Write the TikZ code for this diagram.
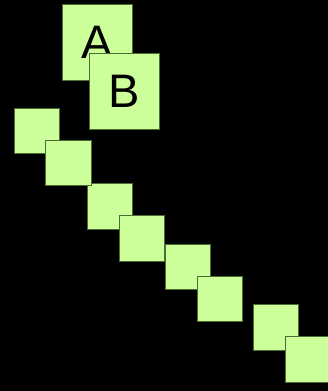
\documentclass[tikz,border=0pt]{standalone}
\usepackage{fontspec}
\setmainfont{Liberation Sans}
\definecolor{boxfill}{HTML}{CCFF99}
\definecolor{boxline}{HTML}{4F6B35}
\tikzset{
  box/.style={
    rectangle,
    fill=boxfill,
    draw=boxline,
    line width=0.8pt,
    minimum size=45.2pt,
    inner sep=0pt,
  },
  letterbox/.style={
    box,
    minimum width=70pt,
    minimum height=76pt,
    font=\fontsize{47}{50}\selectfont,
  }
}

\begin{document}
\begin{tikzpicture}[x=1pt, y=-1pt]
  \useasboundingbox (0, 0) rectangle (328, 391);
  \fill[black] (0, 0) rectangle (328, 391);

  \foreach \name/\px/\py in {
    s7/276.2/327.3,
    s8/308.0/359.3,
    s5/187.7/266.8,
    s6/219.7/298.8,
    s3/109.7/206.3,
    s4/141.5/238.3,
    s1/36.5/130.5,
    s2/68.3/162.5
  }
    \node[box] (\name) at (\px, \py) {};

  \node[letterbox] (a) at (97, 42.5) {A};
  \node[letterbox] (b) at (124.5, 91.5) {B};

\end{tikzpicture}
\end{document}
